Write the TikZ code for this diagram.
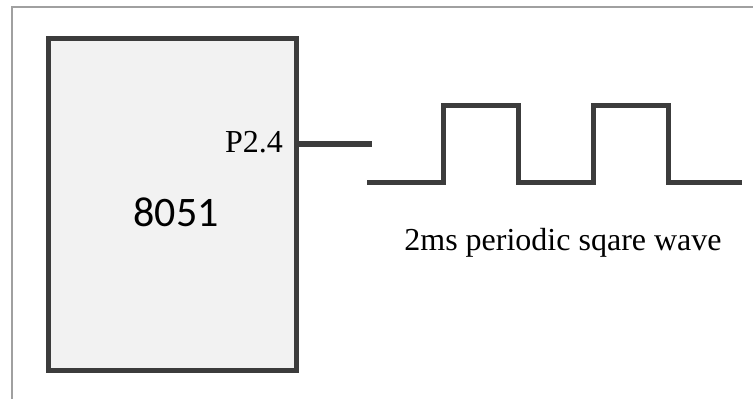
\documentclass[tikz,border=0pt]{standalone}
\usepackage{fontspec}
\setmainfont{Liberation Serif}
\newfontfamily\chipfont{Carlito}
\usepackage{xcolor}
\usetikzlibrary{positioning}
\definecolor{ink}{HTML}{3C3C3C}
\definecolor{chipfill}{HTML}{F2F2F2}
\definecolor{framegray}{HTML}{A0A0A0}

\begin{document}
\begin{tikzpicture}[x=1pt, y=-1pt,
  every node/.style={inner sep=0pt, outer sep=0pt},
  chip/.style={draw=ink, fill=chipfill, line width=5pt, minimum width=248pt, minimum height=332pt},
  pinlbl/.style={font=\fontsize{32}{36}\selectfont},
  chiplbl/.style={font=\chipfont\fontsize{42}{48}\selectfont},
  capt/.style={font=\fontsize{32}{36}\selectfont},
  wire/.style={draw=ink, line width=5pt}
]
\useasboundingbox (0,0) rectangle (753,399);
% frame
\draw[framegray, line width=1.5pt] (12,399) -- (12,7) -- (753,7);

\node[chip] (mcu) at (172,204) {};
\node[chiplbl] (name) at (176,212) {8051};
\node[pinlbl, anchor=base east] (pin) at (283,152) {P2.4};

% pin line
\coordinate (pinend) at (372,144);
\draw[wire, line width=6pt] (mcu.east |- pinend) -- (pinend);

% square wave
\draw[wire, line join=miter] (367,182) -- (443,182) -- (443,105) -- (518,105) -- (518,182)
  -- (593,182) -- (593,105) -- (668,105) -- (668,182) -- (742,182);

\node[capt, anchor=base] (wave) at (563,250) {2ms periodic sqare wave};
\end{tikzpicture}
\end{document}
